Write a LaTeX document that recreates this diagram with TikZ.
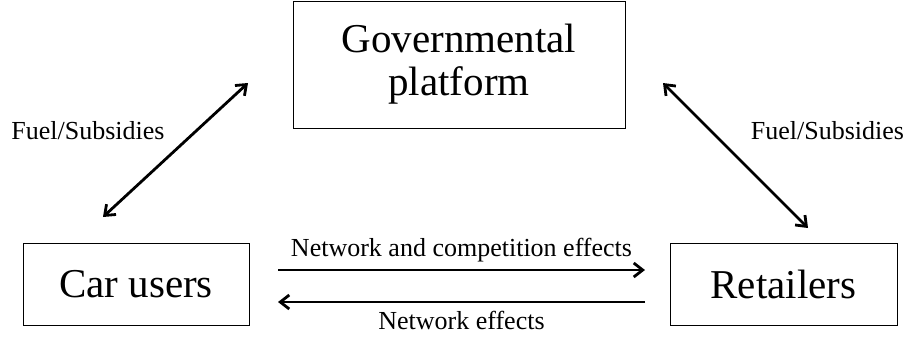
\documentclass[tikz,border=0pt]{standalone}
\usepackage{fontspec}
\setmainfont{Liberation Serif}
\usetikzlibrary{arrows.meta}

\tikzset{
  party/.style = {draw, line width=0.9pt, rectangle, inner sep=0pt,
                  font=\fontsize{41}{43}\selectfont, align=center},
  flow/.style  = {line width=2.8pt, {Straight Barb[length=9pt,width=14pt]}-{Straight Barb[length=9pt,width=14pt]}},
  oneway/.style= {line width=2.8pt, -{Straight Barb[length=9pt,width=14pt]}},
  lbl/.style   = {font=\fontsize{26}{30}\selectfont}
}

\begin{document}
\begin{tikzpicture} [x = 1pt, y = -1pt]
            \useasboundingbox (0, 0) rectangle (908, 338);

            % Akteure
            \node [party, minimum width=332pt, minimum height=127pt] (gov) at (459, 64.5) {Governmental\\platform};
            \node [party, minimum width=226pt, minimum height=82pt]  (car) at (136, 284)   {Car users};
            \node [party, minimum width=227pt, minimum height=82pt]  (ret) at (783.5, 284) {Retailers};

            % freie Pfeilenden
            \coordinate (carTop) at (103, 217);
            \coordinate (govL)   at (248, 83);
            \coordinate (govR)   at (663, 83);
            \coordinate (retTop) at (808, 228);
            \coordinate (carR1)  at (278, 270);
            \coordinate (retL1)  at (645, 270);
            \coordinate (carR2)  at (278, 302);
            \coordinate (retL2)  at (645, 302);

            % Kraftstoff / Subventionen
            \draw [flow] (carTop) -- (govL);
            \draw [flow] (govR) -- (retTop);
            \node [lbl] (fuelL) at (88, 131)    {Fuel/Subsidies};
            \node [lbl] (fuelR) at (827.5, 131) {Fuel/Subsidies};

            % Netzwerkeffekte
            \draw [oneway] (carR1) -- (retL1) node [lbl, midway, above=3pt] (netcomp) {Network and competition effects};
            \draw [oneway] (retL2) -- (carR2) node [lbl, midway, below=4pt] (net) {Network effects};
        \end{tikzpicture}
\end{document}
